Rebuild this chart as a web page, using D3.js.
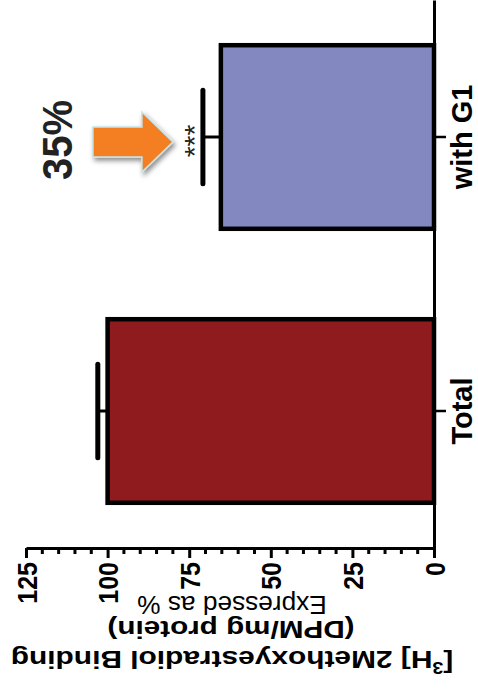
<!DOCTYPE html>
<html>
<head>
<meta charset="utf-8">
<script src="https://cdn.jsdelivr.net/npm/d3@7"></script>
<style>
  body { margin: 0; background: #fff; }
  svg { display: block; font-family: "Liberation Sans", Arial, sans-serif; }
</style>
</head>
<body>
<script>
// data, in the order of the original (unrotated) figure
var groups = ["Total", "with G1"];
var means = [100, 65.3];
var sems = [3, 5.5];
var barColors = ["#8f1b1f", "#8488c0"];
var stars = ["", "***"];
var majorTicks = [0, 25, 50, 75, 100, 125];
var minorTicks = d3.range(0, 126, 5).filter(function(v){ return v % 25 !== 0; });

var W = 478, H = 691;
var baseX = 434, axisY = 548;

var svg = d3.select("body").append("svg")
    .attr("width", W)
    .attr("height", H);

var defs = svg.append("defs");
defs.append("filter").attr("id", "shadow")
    .attr("x", "-30%").attr("y", "-30%").attr("width", "160%").attr("height", "160%")
  .append("feDropShadow")
    .attr("dx", 2).attr("dy", 3).attr("stdDeviation", 2.5)
    .attr("flood-color", "#000").attr("flood-opacity", 0.45);

// chart is turned 90deg counter-clockwise: values run right -> left
var x = d3.scaleLinear().domain([0, 125]).range([baseX, 26]);
var y = d3.scaleBand().domain(groups).range([axisY, 0])
    .paddingInner(0.33).paddingOuter(0.165);

// bars
svg.selectAll(".bar")
   .data(groups).enter()
   .append("rect")
   .attr("class", "bar")
   .attr("x", function(d, i){ return x(means[i]); })
   .attr("y", function(d){ return y(d); })
   .attr("width", function(d, i){ return x(0) - x(means[i]); })
   .attr("height", y.bandwidth())
   .style("fill", function(d, i){ return barColors[i]; })
   .style("stroke", "#000")
   .style("stroke-width", 4.5);

// error bars (upper only)
svg.selectAll(".stem")
   .data(groups).enter()
   .append("line")
   .attr("class", "stem")
   .attr("x1", function(d, i){ return x(means[i]); })
   .attr("x2", function(d, i){ return x(means[i] + sems[i]); })
   .attr("y1", function(d){ return y(d) + y.bandwidth() / 2; })
   .attr("y2", function(d){ return y(d) + y.bandwidth() / 2; })
   .style("stroke", "#000")
   .style("stroke-width", 3);

svg.selectAll(".cap")
   .data(groups).enter()
   .append("line")
   .attr("class", "cap")
   .attr("x1", function(d, i){ return x(means[i] + sems[i]); })
   .attr("x2", function(d, i){ return x(means[i] + sems[i]); })
   .attr("y1", function(d){ return y(d) + y.bandwidth() * 0.245; })
   .attr("y2", function(d){ return y(d) + y.bandwidth() * 0.755; })
   .style("stroke", "#000")
   .style("stroke-width", 5)
   .style("stroke-linecap", "round");

// significance stars
svg.selectAll(".stars")
   .data(groups).enter()
   .append("text")
   .attr("class", "stars")
   .attr("transform", function(d, i){
       return "translate(" + (x(means[i] + sems[i]) + 1) + "," + (y(d) + y.bandwidth() / 2 + 4) + ") rotate(-90)";
   })
   .attr("text-anchor", "middle")
   .style("font-size", "28px")
   .style("fill", "#222")
   .text(function(d, i){ return stars[i]; });

// value axis (bottom)
var xAxis = svg.append("g")
    .attr("class", "x axis")
    .attr("transform", "translate(0," + axisY + ")")
    .call(d3.axisBottom(x).tickValues(majorTicks).tickSize(10).tickSizeOuter(0).tickFormat(d3.format("d")));

xAxis.select(".domain").style("stroke-width", 3);
xAxis.selectAll(".tick line").style("stroke-width", 3);
xAxis.selectAll(".tick text")
    .attr("y", null).attr("dy", null)
    .attr("transform", "translate(0,14) rotate(-90) scale(1,1.12)")
    .attr("text-anchor", "end")
    .attr("dy", "0.36em")
    .style("font-size", "25px")
    .style("font-weight", "bold")
    .style("fill", "#000");

xAxis.selectAll(".minor")
    .data(minorTicks).enter()
    .append("line")
    .attr("class", "minor")
    .attr("x1", function(d){ return x(d); })
    .attr("x2", function(d){ return x(d); })
    .attr("y1", 0)
    .attr("y2", 6)
    .style("stroke", "#000")
    .style("stroke-width", 3);

// category axis (right side)
var yAxis = svg.append("g")
    .attr("class", "y axis")
    .attr("transform", "translate(" + baseX + ",0)")
    .call(d3.axisRight(y).tickSize(12).tickSizeOuter(0));

yAxis.select(".domain").style("stroke-width", 3);
yAxis.selectAll(".tick line").style("stroke-width", 2.5);
yAxis.selectAll(".tick text")
    .attr("x", null).attr("dy", null)
    .attr("transform", "translate(38,0) rotate(-90)")
    .attr("text-anchor", "middle")
    .style("font-size", "29px")
    .style("font-weight", "bold")
    .style("fill", "#000");

// axis title, upside down
svg.append("text")
    .attr("transform", "translate(232," + 655 + ") rotate(180) scale(1.22,1)")
    .attr("text-anchor", "middle")
    .style("font-size", "24.5px")
    .style("font-weight", "bold")
    .call(function(t){
        t.append("tspan").text("[");
        t.append("tspan").attr("dy", "-0.42em").style("font-size", "16px").text("3");
        t.append("tspan").attr("dy", "0.42em").text("H] 2Methoxyestradiol Binding");
    });

svg.append("text")
    .attr("transform", "translate(231,621) rotate(180) scale(1.29,1)")
    .attr("text-anchor", "middle")
    .style("font-size", "23px")
    .style("font-weight", "bold")
    .text("(DPM/mg protein)");

svg.append("text")
    .attr("transform", "translate(232,596) rotate(180) scale(1.05,1)")
    .attr("text-anchor", "middle")
    .style("font-size", "25px")
    .text("Expressed as %");

// arrow + percentage drop annotation
var k = groups.indexOf("with G1");
var tipX = x(means[k] + sems[k]) - 30;
var tipY = y(groups[k]) + y.bandwidth() / 2 + 5;
var arrowPts = [
    [tipX - 80, tipY - 15], [tipX - 31, tipY - 15], [tipX - 31, tipY - 30],
    [tipX, tipY], [tipX - 31, tipY + 30], [tipX - 31, tipY + 15], [tipX - 80, tipY + 15]
];
svg.append("path")
    .attr("d", d3.line()(arrowPts) + "Z")
    .style("fill", "#f47f21")
    .style("stroke", "#c6e6ec")
    .style("stroke-width", 1.5)
    .attr("filter", "url(#shadow)");

var drop = Math.round(means[0] - means[k]);
svg.append("text")
    .attr("transform", "translate(" + (tipX - 101) + "," + (tipY - 2) + ") rotate(-90) scale(1,1.08)")
    .attr("text-anchor", "middle")
    .style("font-size", "40px")
    .style("font-weight", "bold")
    .style("fill", "#222")
    .text(drop + "%");
</script>
</body>
</html>
